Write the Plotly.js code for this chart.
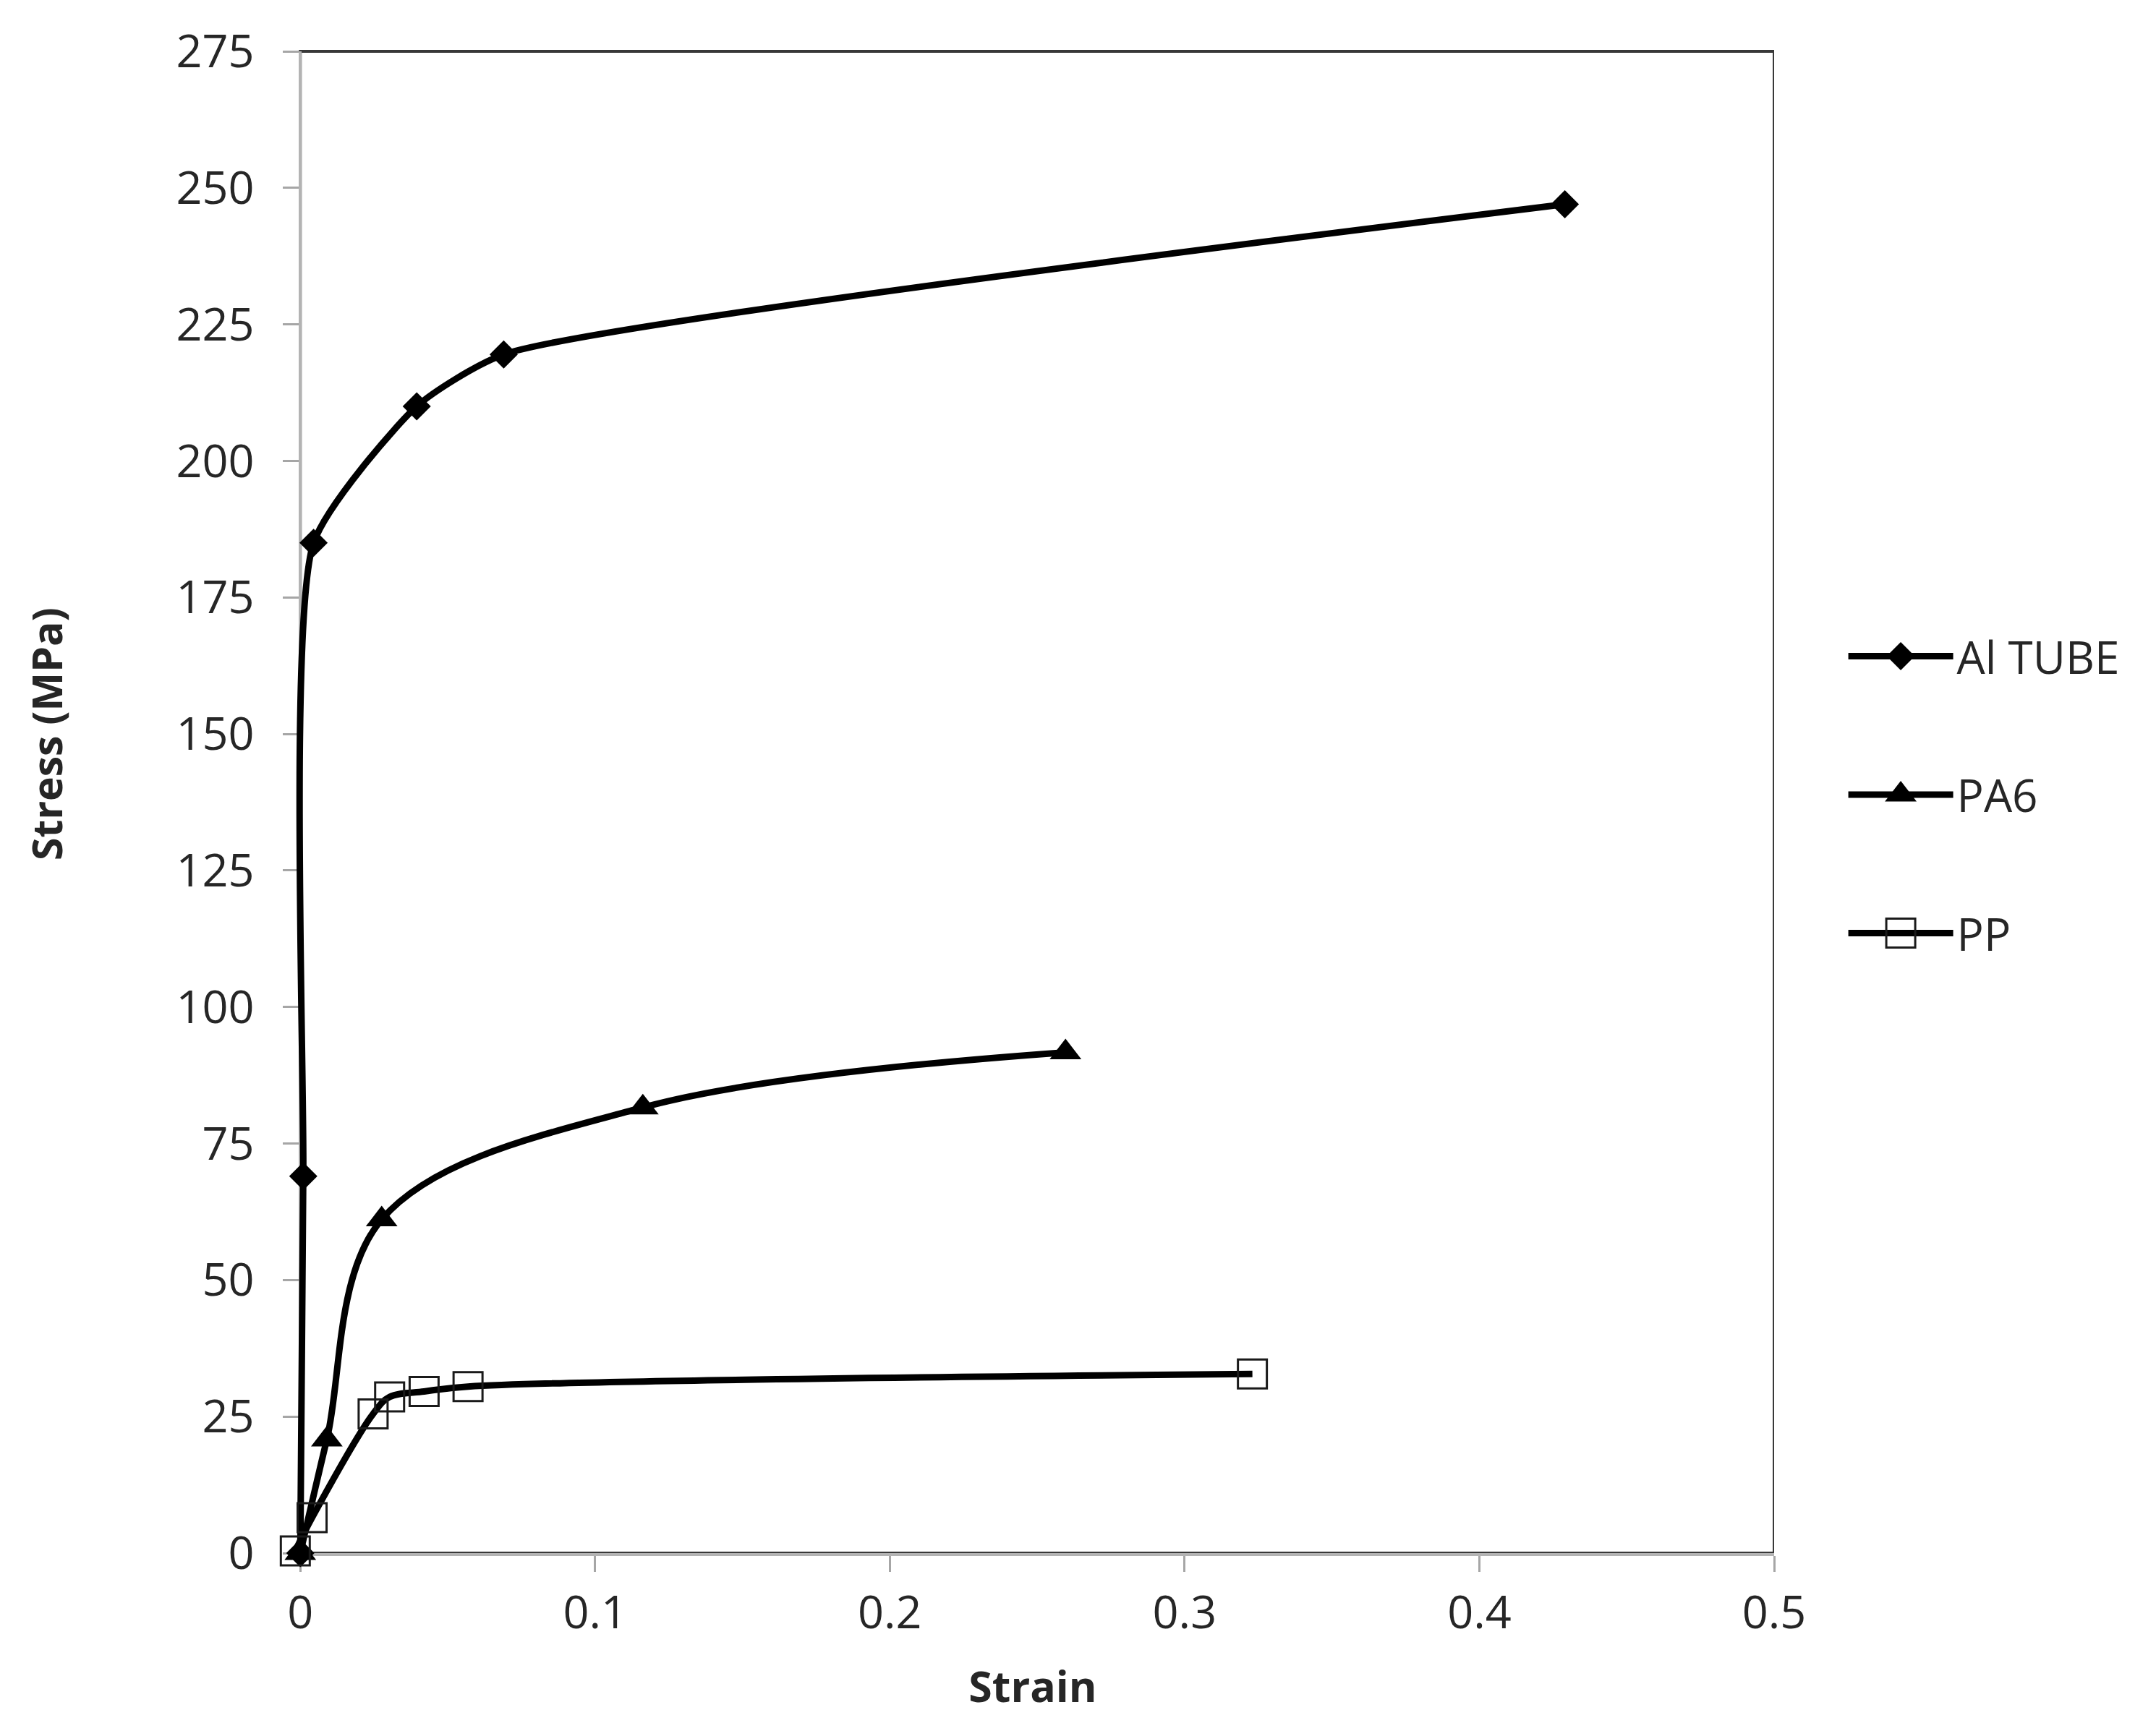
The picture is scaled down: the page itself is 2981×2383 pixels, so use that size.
<!DOCTYPE html>
<html>
<head>
<meta charset="utf-8">
<script src="https://cdn.plot.ly/plotly-3.0.1.min.js"></script>
<style>
  html, body { margin: 0; padding: 0; background: #ffffff; }
  #chart { width: 2981px; height: 2383px; }
</style>
</head>
<body>
<div id="chart"></div>
<script>
// values
var seriesNames = ['Al TUBE', 'PA6', 'PP'];

var alStrain = [0, 0.001, 0.0045, 0.0395, 0.069, 0.429];
var alStress = [0, 69, 185, 210, 219.5, 247];

var pa6Strain = [0, 0.009, 0.0276, 0.1162, 0.2596];
var pa6Stress = [0, 20.8, 61.1, 81.6, 91.7];

var ppStrain = [-0.0017, 0.004, 0.0247, 0.0303, 0.042, 0.0569, 0.323];
var ppStress = [0.4, 6.5, 25.5, 28.6, 29.6, 30.5, 32.8];

var xTicks = [0, 0.1, 0.2, 0.3, 0.4, 0.5];
var yTicks = [0, 25, 50, 75, 100, 125, 150, 175, 200, 225, 250, 275];

var FONT = 'Open Sans, Noto Sans, sans-serif';
var TEXT = '#262626';

// a little room left of x = 0 so the curves hugging the y axis are not clipped
var X_MIN = -0.003;
var X_MAX = 0.5;

function curve(name, x, y, marker, smoothing) {
    return {
        name: name,
        legendgroup: name,
        x: x,
        y: y,
        type: 'scatter',
        mode: 'lines+markers',
        line: { color: '#000000', width: 9, shape: 'spline', smoothing: smoothing },
        marker: marker,
        cliponaxis: false,
        hoverinfo: 'x+y+name'
    };
}

var data = [
    curve(seriesNames[0], alStrain, alStress, { symbol: 'diamond', size: 30, color: '#000000' }, 0.55),
    curve(seriesNames[1], pa6Strain, pa6Stress, { symbol: 'triangle-up', size: 38, color: '#000000' }, 1),
    curve(seriesNames[2], ppStrain, ppStress, { symbol: 'square-open', size: 40, color: '#1a1a1a', line: { width: 3, color: '#1a1a1a' } }, 1)
];

var layout = {
    width: 2981,
    height: 2383,
    paper_bgcolor: '#ffffff',
    plot_bgcolor: '#ffffff',
    font: { family: FONT, color: TEXT },
    margin: { l: 403, r: 528, t: 71, b: 235 },
    showlegend: true,
    legend: {
        x: 1.0476,
        xanchor: 'left',
        y: 0.505,
        yanchor: 'middle',
        traceorder: 'grouped',
        tracegroupgap: 108,
        itemwidth: 145,
        valign: 'middle',
        font: { family: FONT, size: 62, color: TEXT },
        bgcolor: 'rgba(0,0,0,0)',
        borderwidth: 0
    },
    xaxis: {
        range: [X_MIN, X_MAX],
        tickvals: xTicks,
        ticktext: xTicks.map(String),
        ticks: 'outside',
        ticklen: 22,
        tickwidth: 3,
        tickcolor: '#a6a6a6',
        ticklabelstandoff: 2,
        showline: true,
        linecolor: '#b3b3b3',
        linewidth: 4,
        showgrid: false,
        zeroline: false,
        layer: 'below traces',
        tickfont: { family: FONT, size: 63, color: TEXT },
        title: { text: '<b>Strain</b>', font: { family: FONT, size: 59, color: TEXT }, standoff: 45 }
    },
    yaxis: {
        range: [0, 275],
        anchor: 'free',
        position: -X_MIN / (X_MAX - X_MIN),
        tickvals: yTicks,
        ticktext: yTicks.map(String),
        ticks: 'outside',
        ticklen: 22,
        tickwidth: 3,
        tickcolor: '#a6a6a6',
        ticklabelstandoff: 27,
        showline: true,
        linecolor: '#b3b3b3',
        linewidth: 4,
        showgrid: false,
        zeroline: false,
        layer: 'below traces',
        tickfont: { family: FONT, size: 63, color: TEXT }
    },
    annotations: [{
        text: '<b>Stress (MPa)</b>',
        textangle: -90,
        xref: 'paper', yref: 'paper',
        x: -0.1654, y: 0.5455,
        xanchor: 'center', yanchor: 'middle',
        showarrow: false,
        font: { family: FONT, size: 57, color: TEXT }
    }],
    shapes: [{
        type: 'rect', xref: 'x', yref: 'paper',
        x0: 0, x1: X_MAX, y0: 0, y1: 1,
        line: { color: '#383838', width: 4 },
        layer: 'below'
    }]
};

Plotly.newPlot('chart', data, layout, { displayModeBar: false, staticPlot: true }).then(function (gd) {
    // the legend caps symbol size at 16px; enlarge the samples to the trace size
    var items = gd.querySelectorAll('.legend .traces');
    items.forEach(function (item, i) {
        var s = data[i].marker.size / 16;
        item.querySelectorAll('.legendpoints path.scatterpts').forEach(function (p) {
            p.setAttribute('transform', (p.getAttribute('transform') || '') + ' scale(' + s + ')');
            var w = parseFloat(p.style.strokeWidth);
            if (w) p.style.strokeWidth = (w / s) + 'px';
        });
    });
});
</script>
</body>
</html>
